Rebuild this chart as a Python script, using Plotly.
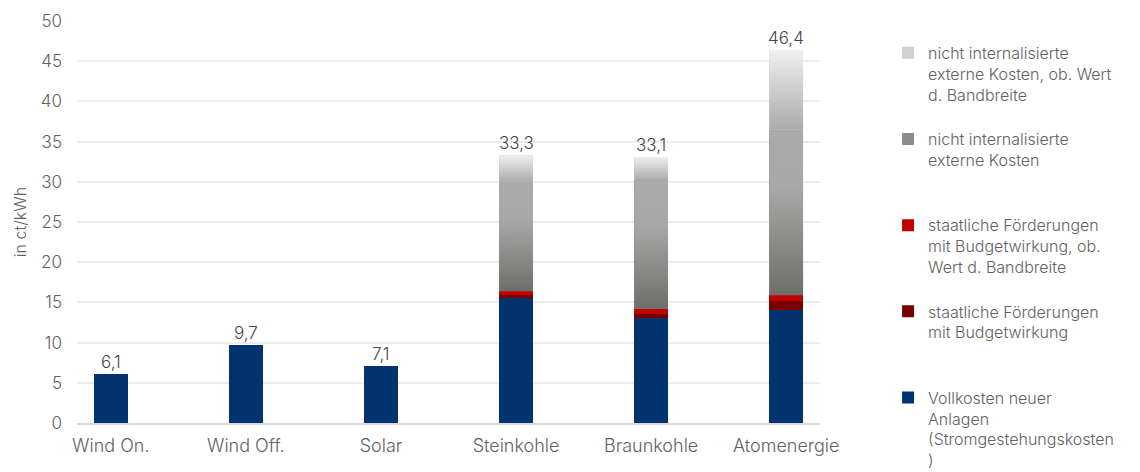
import plotly.graph_objects as go

categories = ["Wind On.", "Wind Off.", "Solar", "Steinkohle", "Braunkohle", "Atomenergie"]
totals = [6.1, 9.7, 7.1, 33.3, 33.1, 46.4]
total_labels = ["6,1", "9,7", "7,1", "33,3", "33,1", "46,4"]

vollkosten = [6.1, 9.7, 7.1, 15.6, 13.1, 14.1]
foerderung = [0, 0, 0, 0.3, 0.4, 1.1]
foerderung_ob = [0, 0, 0, 0.5, 0.7, 0.7]
externe = [0, 0, 0, 13.6, 16.0, 20.6]
externe_ob = [0, 0, 0, 3.3, 2.9, 9.9]

names = [
    "Vollkosten neuer<br>Anlagen<br>(Stromgestehungskosten<br>)",
    "staatliche Förderungen<br>mit Budgetwirkung<br> <br> ",
    "staatliche Förderungen<br>mit Budgetwirkung, ob.<br>Wert d. Bandbreite<br> ",
    "nicht internalisierte<br>externe Kosten<br> <br> ",
    "nicht internalisierte<br>externe Kosten, ob. Wert<br>d. Bandbreite<br> ",
]
series = [vollkosten, foerderung, foerderung_ob, externe, externe_ob]
colors = ["#03336E", "#7A0000", "#C00000", "#8C8C8A", "#D0D0D0"]

FONT = "Inter"
W = 300
TXT = "#626262"
BW = 0.25
xs = list(range(len(categories)))

fig = go.Figure()
for name, vals, col in zip(names, series, colors):
    fig.add_trace(go.Bar(x=xs, y=vals, name=name, width=BW,
                         marker=dict(color=col, line=dict(width=0)),
                         hoverinfo="skip"))

# gradient overlays for the grey segments
grad_scales = [
    [[0, "#6E6E69"], [0.65, "#A8A8A8"], [1, "#ABABAB"]],
    [[0, "#ABABAB"], [1, "#EFEFEF"]],
]
for i in xs:
    base = vollkosten[i] + foerderung[i] + foerderung_ob[i]
    for vals, cs in zip([externe, externe_ob], grad_scales):
        v = vals[i]
        if v <= 0:
            continue
        top = base + v
        fig.add_trace(go.Scatter(
            x=[i - BW / 2, i + BW / 2, i + BW / 2, i - BW / 2, i - BW / 2],
            y=[base, base, top, top, base],
            mode="none", fill="toself",
            fillgradient=dict(type="vertical", colorscale=cs, start=base, stop=top),
            showlegend=False, hoverinfo="skip"))
        base = top

for i in xs:
    fig.add_annotation(x=i, y=totals[i], text=total_labels[i], showarrow=False,
                       yanchor="bottom", yshift=0,
                       font=dict(family=FONT, size=17, color="#454545", weight=W))

fig.update_layout(
    barmode="stack",
    width=1140, height=472,
    margin=dict(l=77, r=320, t=21, b=49),
    plot_bgcolor="white", paper_bgcolor="white",
    font=dict(family=FONT, size=16, color=TXT, weight=W),
    showlegend=True,
    legend=dict(traceorder="reversed", xref="container", yref="container",
                x=0.779, y=0.924, xanchor="left", yanchor="top",
                valign="top", itemwidth=30, maxheight=1,
                font=dict(family=FONT, size=16, color=TXT, weight=W),
                bgcolor="rgba(0,0,0,0)", tracegroupgap=0, itemclick=False),
)
fig.update_xaxes(range=[-0.25, 5.25], tickmode="array", tickvals=xs, ticktext=categories,
                 showgrid=False, zeroline=False, showline=True, linecolor="#D9D9D9",
                 linewidth=2, ticks="", ticklabelstandoff=5,
                 tickfont=dict(family=FONT, size=18, color=TXT, weight=W))
fig.update_yaxes(range=[0, 50], dtick=5, showgrid=True, gridcolor="#ECECEC", gridwidth=1.5,
                 zeroline=False, showline=False, ticks="", ticklabelstandoff=14,
                 tickfont=dict(family=FONT, size=17, color=TXT, weight=W),
                 title=dict(text="in ct/kWh", standoff=10,
                            font=dict(family=FONT, size=16, color=TXT, weight=W)))

fig.write_html("out.html")
